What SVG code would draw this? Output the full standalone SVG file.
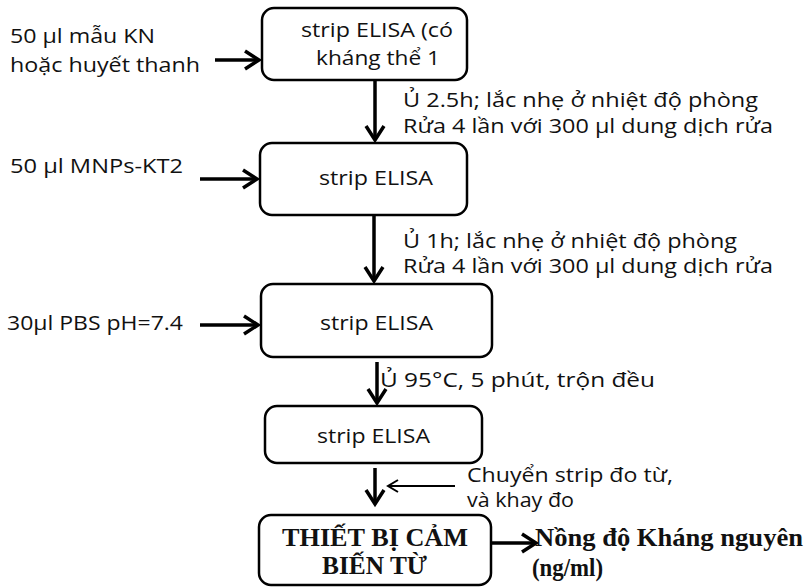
<svg xmlns="http://www.w3.org/2000/svg" width="805" height="587" viewBox="0 0 805 587">
<style>
  .box { fill: #fff; stroke: #000; stroke-width: 2.5; }
  .t { font-family: "Open Sans", "Liberation Sans", Arial, sans-serif; font-size: 20px; fill: #111; }
  .b { font-family: "Liberation Serif", "Times New Roman", serif; font-size: 25px; font-weight: bold; fill: #111; }
  .ar { stroke: #000; stroke-width: 3.5; fill: none; marker-end: url(#ah); }
  .thin { stroke: #000; stroke-width: 1.8; fill: none; marker-end: url(#ahs); }
</style>
<defs>
  <marker id="ah" viewBox="-18 -12 22 24" markerUnits="userSpaceOnUse" markerWidth="22" markerHeight="24" refX="0" refY="0" orient="auto">
    <path d="M-14,-9 L0,0 L-14,9" fill="none" stroke="#000" stroke-width="3.5"/>
  </marker>
  <marker id="ahs" viewBox="-14 -9 18 18" markerUnits="userSpaceOnUse" markerWidth="18" markerHeight="18" refX="0" refY="0" orient="auto">
    <path d="M-10,-6 L0,0 L-10,6" fill="none" stroke="#000" stroke-width="2"/>
  </marker>
</defs>
<rect width="805" height="587" fill="#fff"/>

<g id="connectors">
  <line class="ar" x1="215" y1="60" x2="259" y2="60"/>
  <line class="ar" x1="200" y1="179" x2="257" y2="179"/>
  <line class="ar" x1="200" y1="325" x2="258" y2="325"/>
  <line class="ar" x1="375" y1="81" x2="375" y2="140"/>
  <line class="ar" x1="374" y1="216" x2="374" y2="281"/>
  <line class="ar" x1="377" y1="362" x2="377" y2="403"/>
  <line class="ar" x1="375" y1="468" x2="375" y2="504"/>
  <line class="thin" x1="455" y1="486" x2="388" y2="486"/>
  <line class="ar" x1="480" y1="543" x2="536" y2="543"/>
</g>

<g id="input1">
  <text class="t" x="10" y="43" textLength="145" lengthAdjust="spacingAndGlyphs">50 µl mẫu KN</text>
  <text class="t" x="10" y="72" textLength="190" lengthAdjust="spacingAndGlyphs">hoặc huyết thanh</text>
</g>
<g id="box1">
  <rect class="box" x="262" y="8" width="205" height="72" rx="12"/>
  <text class="t" x="301" y="37" textLength="152" lengthAdjust="spacingAndGlyphs">strip ELISA (có</text>
  <text class="t" x="316" y="65" textLength="124" lengthAdjust="spacingAndGlyphs">kháng thể 1</text>
</g>
<g id="step1">
  <text class="t" x="403" y="107" textLength="355" lengthAdjust="spacingAndGlyphs">Ủ 2.5h; lắc nhẹ ở nhiệt độ phòng</text>
  <text class="t" x="403" y="133" textLength="370" lengthAdjust="spacingAndGlyphs">Rửa 4 lần với 300 µl dung dịch rửa</text>
</g>
<g id="input2">
  <text class="t" x="10" y="173" textLength="173" lengthAdjust="spacingAndGlyphs">50 µl MNPs-KT2</text>
</g>
<g id="box2">
  <rect class="box" x="260" y="143" width="207" height="72" rx="12"/>
  <text class="t" x="319" y="185" textLength="114" lengthAdjust="spacingAndGlyphs">strip ELISA</text>
</g>
<g id="step2">
  <text class="t" x="403" y="248" textLength="334" lengthAdjust="spacingAndGlyphs">Ủ 1h; lắc nhẹ ở nhiệt độ phòng</text>
  <text class="t" x="403" y="273" textLength="370" lengthAdjust="spacingAndGlyphs">Rửa 4 lần với 300 µl dung dịch rửa</text>
</g>
<g id="input3">
  <text class="t" x="7" y="330" textLength="176" lengthAdjust="spacingAndGlyphs">30µl PBS pH=7.4</text>
</g>
<g id="box3">
  <rect class="box" x="261" y="284" width="231" height="73" rx="12"/>
  <text class="t" x="320" y="330" textLength="113" lengthAdjust="spacingAndGlyphs">strip ELISA</text>
</g>
<g id="step3">
  <text class="t" x="380" y="387" textLength="275" lengthAdjust="spacingAndGlyphs">Ủ 95°C, 5 phút, trộn đều</text>
</g>
<g id="box4">
  <rect class="box" x="265" y="406" width="217" height="57" rx="12"/>
  <text class="t" x="317" y="443" textLength="113" lengthAdjust="spacingAndGlyphs">strip ELISA</text>
</g>
<g id="step4">
  <text class="t" x="467" y="482" textLength="206" lengthAdjust="spacingAndGlyphs">Chuyển strip đo từ,</text>
  <text class="t" x="467" y="507" textLength="107" lengthAdjust="spacingAndGlyphs">và khay đo</text>
</g>
<g id="box5">
  <rect class="box" x="259" y="515" width="232" height="70" rx="12"/>
  <text class="b" x="282" y="546" textLength="186" lengthAdjust="spacingAndGlyphs">THIẾT BỊ CẢM</text>
  <text class="b" x="322" y="574" textLength="105" lengthAdjust="spacingAndGlyphs">BIẾN TỪ</text>
</g>
<g id="output">
  <text class="b" x="535" y="546" textLength="268" lengthAdjust="spacingAndGlyphs">Nồng độ Kháng nguyên</text>
  <text class="b" x="532" y="576" textLength="71" lengthAdjust="spacingAndGlyphs">(ng/ml)</text>
</g>
</svg>
